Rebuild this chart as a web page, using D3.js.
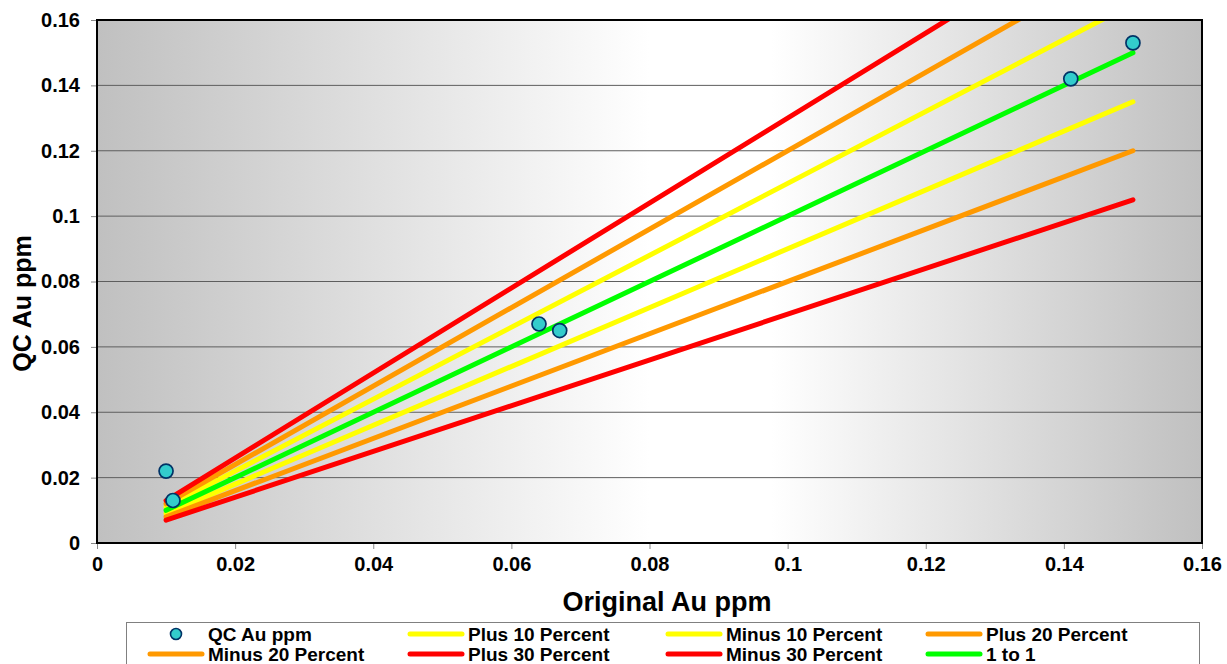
<!DOCTYPE html>
<html>
<head>
<meta charset="utf-8">
<script src="https://cdn.jsdelivr.net/npm/d3@7"></script>
<style>
  html, body { margin: 0; padding: 0; background: #fff; }
  svg { display: block; font-family: "Liberation Sans", Arial, sans-serif; font-weight: bold; }
</style>
</head>
<body>
<svg id="chart" width="1227" height="664"></svg>
<script>
// QC duplicate samples: original vs. check assay (Au ppm)
const originalAu = [0.010, 0.011, 0.064, 0.067, 0.141, 0.150];
const qcAu       = [0.022, 0.013, 0.067, 0.065, 0.142, 0.153];

// Reference lines, each defined by its two end points
const lineX      = [0.01, 0.15];
const oneToOne   = [0.010, 0.150];
const plus10     = [0.011, 0.165];
const minus10    = [0.009, 0.135];
const plus20     = [0.012, 0.180];
const minus20    = [0.008, 0.120];
const plus30     = [0.013, 0.195];
const minus30    = [0.007, 0.105];

const xTicks = [0, 0.02, 0.04, 0.06, 0.08, 0.1, 0.12, 0.14, 0.16];
const yTicks = [0, 0.02, 0.04, 0.06, 0.08, 0.1, 0.12, 0.14, 0.16];

const RED = "#ff0000", ORANGE = "#ff9900", YELLOW = "#ffff00", GREEN = "#00ff00";

// drawing order (later on top)
const series = [
  { name: "Plus 10 Percent",  y: plus10,   color: YELLOW },
  { name: "Minus 10 Percent", y: minus10,  color: YELLOW },
  { name: "Plus 20 Percent",  y: plus20,   color: ORANGE },
  { name: "Minus 20 Percent", y: minus20,  color: ORANGE },
  { name: "Plus 30 Percent",  y: plus30,   color: RED },
  { name: "Minus 30 Percent", y: minus30,  color: RED },
  { name: "1 to 1",           y: oneToOne, color: GREEN }
];

const svg = d3.select("#chart");
const L = 97, R = 1202, T = 20, B = 543;

const x = d3.scaleLinear().domain([0, 0.16]).range([L, R]);
const y = d3.scaleLinear().domain([0, 0.16]).range([B, T]);

// plot background: gray at the sides, white toward the middle
const defs = svg.append("defs");
const grad = defs.append("linearGradient").attr("id", "bg")
  .attr("x1", "0%").attr("x2", "100%").attr("y1", "0%").attr("y2", "0%");
[[0, "#c0c0c0"], [0.5, "#ffffff"], [0.61, "#ffffff"], [1, "#c0c0c0"]].forEach(([o, c]) =>
  grad.append("stop").attr("offset", o).attr("stop-color", c));

defs.append("clipPath").attr("id", "plotClip")
  .append("rect").attr("x", L).attr("y", T).attr("width", R - L).attr("height", B - T);

svg.append("rect").attr("x", L).attr("y", T).attr("width", R - L).attr("height", B - T)
  .attr("fill", "url(#bg)");

// horizontal gridlines
svg.append("g").selectAll("line").data(yTicks.slice(1, -1)).join("line")
  .attr("x1", L).attr("x2", R).attr("y1", d => y(d)).attr("y2", d => y(d))
  .attr("stroke", "#5e5e5e").attr("stroke-width", 1);

// axes
const fmt = d => d === 0 ? "0" : String(+d.toFixed(2));
const yAxis = svg.append("g").attr("transform", `translate(${L},0)`)
  .call(d3.axisLeft(y).tickValues(yTicks).tickFormat(fmt).tickSize(6).tickPadding(11));
const xAxis = svg.append("g").attr("transform", `translate(0,${B})`)
  .call(d3.axisBottom(x).tickValues(xTicks).tickFormat(fmt).tickSize(6).tickPadding(8));
[yAxis, xAxis].forEach(a => {
  a.select(".domain").remove();
  a.selectAll(".tick line").attr("stroke", "#888");
  a.selectAll(".tick text").attr("fill", "#000").style("font-size", "20px")
    .style("font-family", "'Liberation Sans', Arial, sans-serif").style("font-weight", "bold");
});

// reference lines
const line = d3.line().x(d => x(d[0])).y(d => y(d[1]));
const plot = svg.append("g").attr("clip-path", "url(#plotClip)");
plot.selectAll("path.ref").data(series).join("path").attr("class", "ref")
  .attr("d", s => line(lineX.map((v, i) => [v, s.y[i]])))
  .attr("fill", "none").attr("stroke", s => s.color).attr("stroke-width", 5)
  .attr("stroke-linecap", "round");

// QC points
svg.append("g").selectAll("circle").data(originalAu.map((v, i) => [v, qcAu[i]])).join("circle")
  .attr("cx", d => x(d[0])).attr("cy", d => y(d[1])).attr("r", 7)
  .attr("fill", "#33cccc").attr("stroke", "#003366").attr("stroke-width", 1.7);

// plot frame
svg.append("rect").attr("x", L).attr("y", T).attr("width", R - L).attr("height", B - T)
  .attr("fill", "none").attr("stroke", "#000").attr("stroke-width", 2);

// axis titles
svg.append("text").attr("x", 667).attr("y", 611).attr("text-anchor", "middle")
  .style("font-size", "27px").text("Original Au ppm");
svg.append("text").attr("transform", `translate(31,${(T + B) / 2 + 22}) rotate(-90)`)
  .attr("text-anchor", "middle").style("font-size", "25px").text("QC Au ppm");

// legend
const legend = svg.append("g");
legend.append("rect").attr("x", 126.5).attr("y", 622.5).attr("width", 1073).attr("height", 60)
  .attr("fill", "#fff").attr("stroke", "#808080").attr("stroke-width", 1);

const colX = [150, 410, 668, 928];
const rowY = [634, 654];
const legendItems = [{ name: "QC Au ppm", marker: true }].concat(
  ["Plus 10 Percent", "Minus 10 Percent", "Plus 20 Percent", "Minus 20 Percent",
   "Plus 30 Percent", "Minus 30 Percent", "1 to 1"].map(n => series.find(s => s.name === n)));

legendItems.forEach((item, i) => {
  const cx = colX[i % 4], cy = rowY[Math.floor(i / 4)];
  const g = legend.append("g");
  if (item.marker) {
    g.append("circle").attr("cx", cx + 26).attr("cy", cy).attr("r", 5.5)
      .attr("fill", "#33cccc").attr("stroke", "#003366").attr("stroke-width", 1.6);
  } else {
    g.append("line").attr("x1", cx).attr("x2", cx + 52).attr("y1", cy).attr("y2", cy)
      .attr("stroke", item.color).attr("stroke-width", 5).attr("stroke-linecap", "round");
  }
  g.append("text").attr("x", cx + 58).attr("y", cy + 6.5).style("font-size", "19px").text(item.name);
});
</script>
</body>
</html>
